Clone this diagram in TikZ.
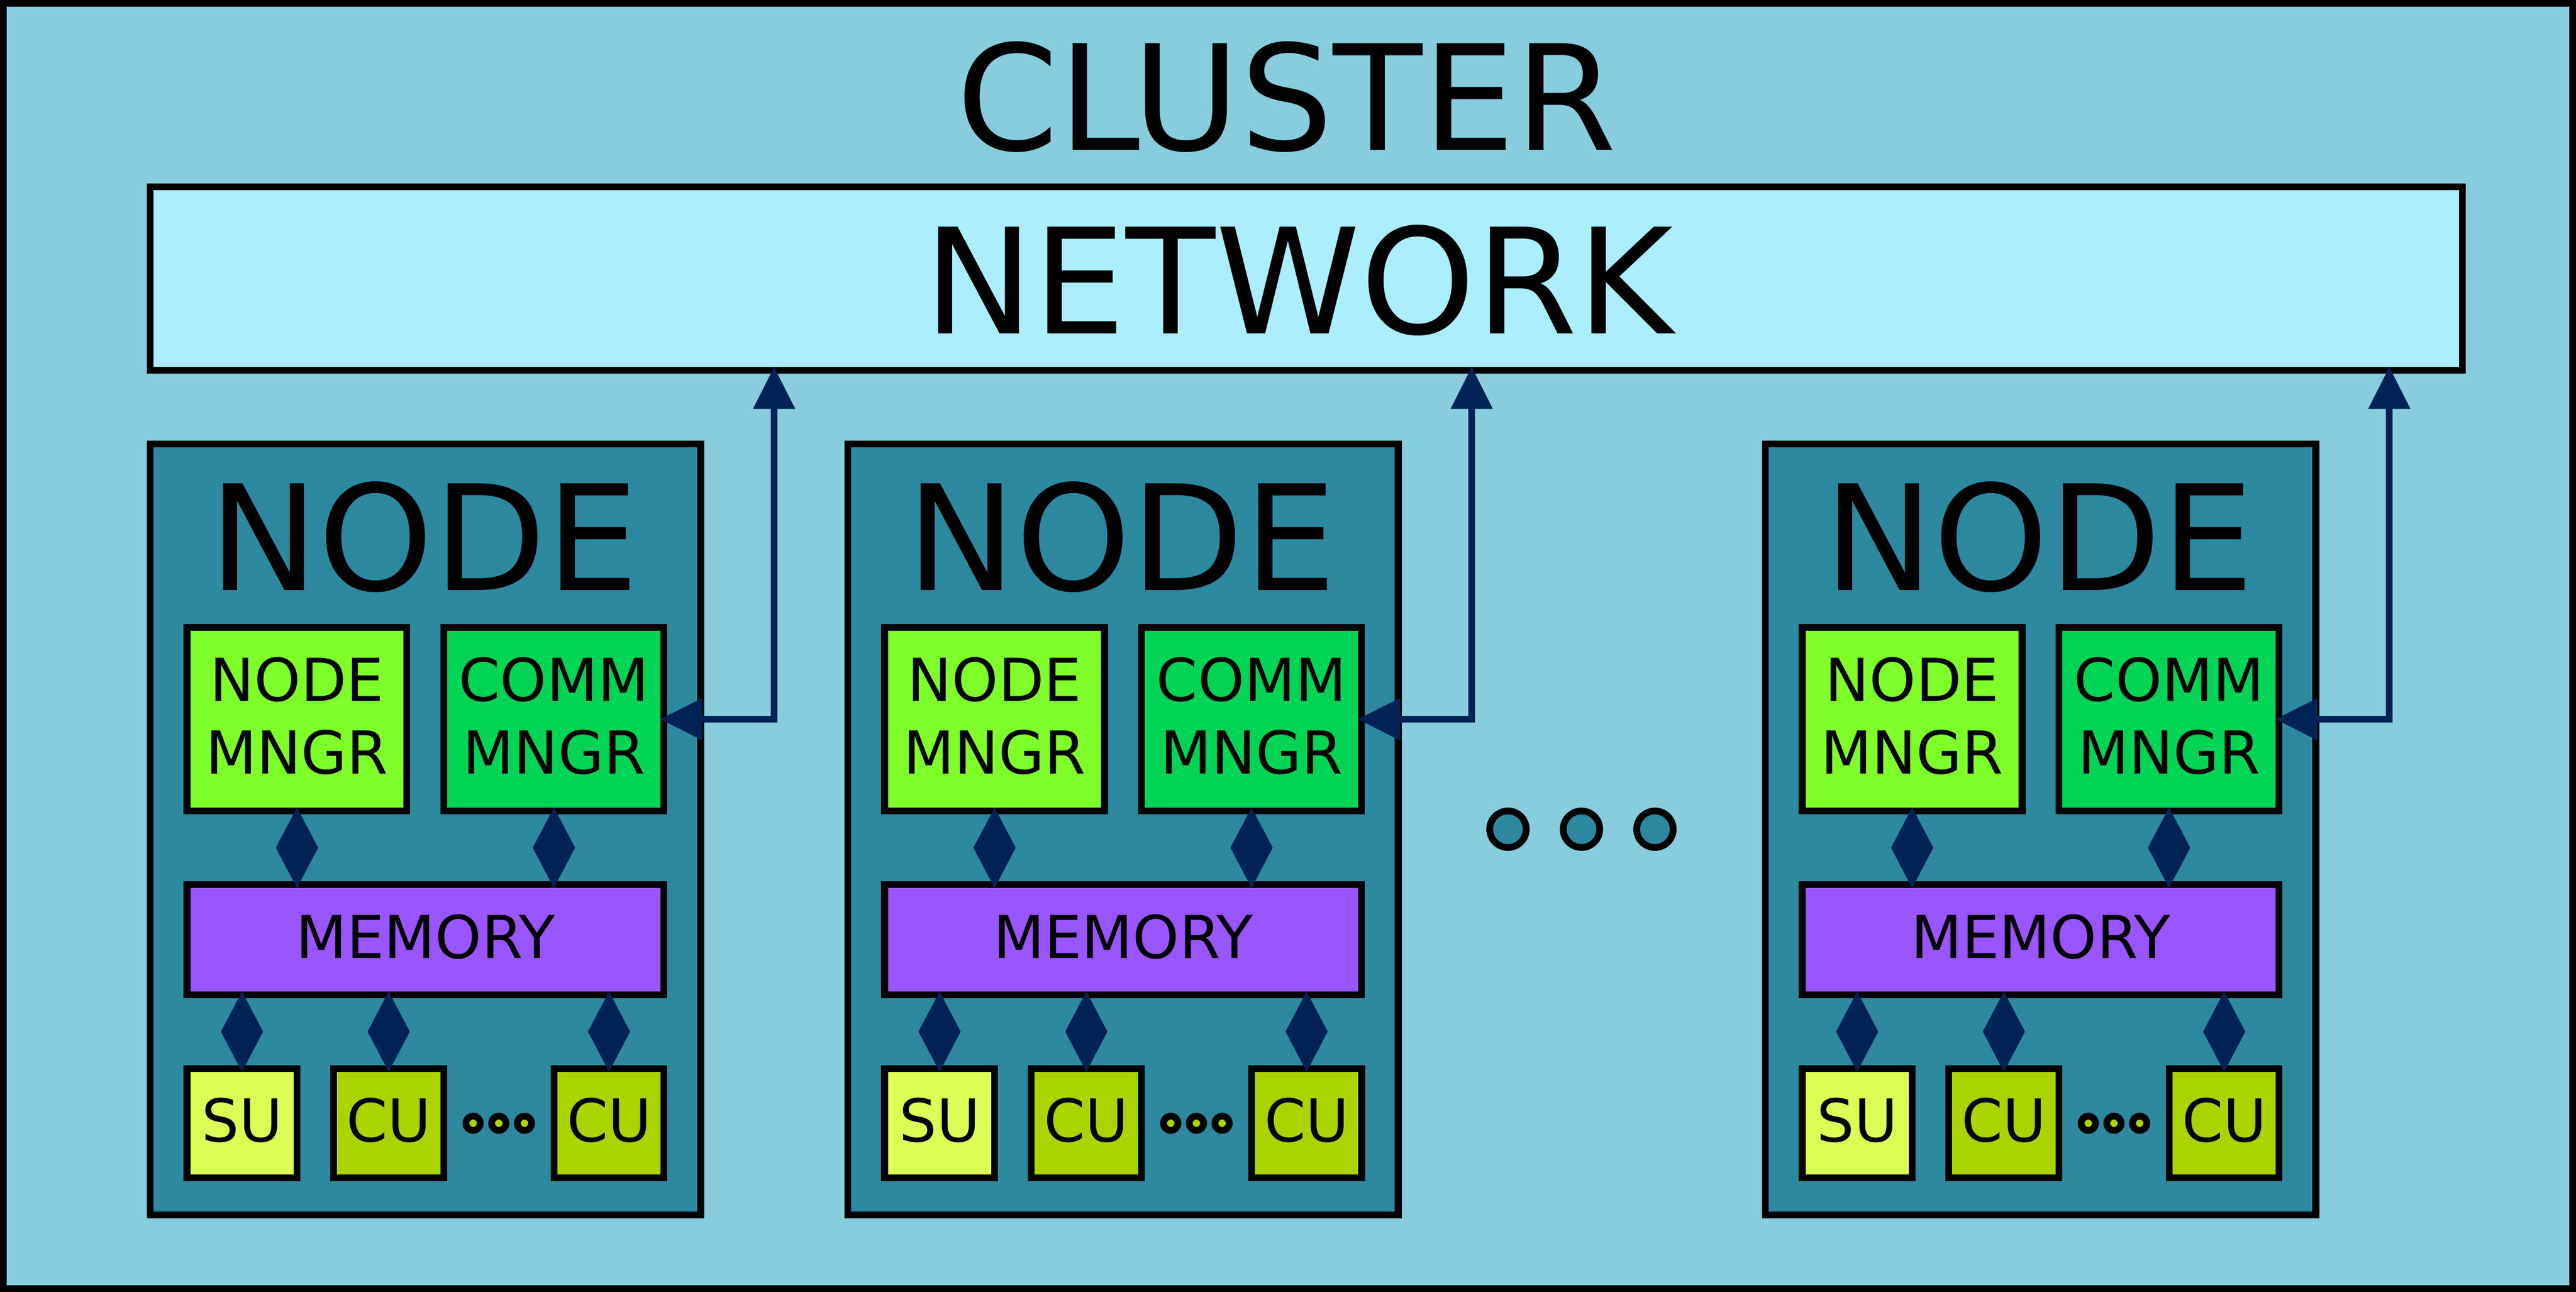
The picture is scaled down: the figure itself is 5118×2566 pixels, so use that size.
\documentclass[tikz,border=0pt]{standalone}
\usepackage{fontspec}
\setmainfont{DejaVu Sans}
\usetikzlibrary{arrows.meta}
\definecolor{clusterbg}{HTML}{87CDDE}
\definecolor{netbg}{HTML}{AAEEFF}
\definecolor{nodebg}{HTML}{2C89A0}
\definecolor{mngrbg}{HTML}{7FFF2A}
\definecolor{commbg}{HTML}{00D455}
\definecolor{membg}{HTML}{9955FF}
\definecolor{subg}{HTML}{DDFF55}
\definecolor{cubg}{HTML}{AAD400}
\definecolor{arrowc}{HTML}{002255}
\newcommand{\myDeepStrut}{\rule[-15pt]{0pt}{0pt}}
\newcommand{\myLowStrut}{\rule[-13pt]{0pt}{0pt}}
\begin{document}
\begin{tikzpicture}[x=1pt,y=-1pt,
  box/.style={draw=black,line width=13.5pt,inner sep=0pt,rectangle},
  bigtext/.style={font=\fontsize{291}{349}\selectfont},
  smalltext/.style={font=\fontsize{117.5}{145}\selectfont},
  nodebox/.style={box,fill=nodebg,minimum width=1094pt,minimum height=1531.5pt},
  mngrbox/.style={box,smalltext,align=center,minimum width=437pt,minimum height=364pt},
  membox/.style={box,smalltext,fill=membg,minimum width=947.5pt,minimum height=219pt},
  unitbox/.style={box,smalltext,minimum width=218.5pt,minimum height=217.5pt},
  link/.style={draw=arrowc,line width=13.5pt,
    >={Triangle[length=80pt,width=84pt,line width=0pt]},<->,
    shorten <=-13.5pt,shorten >=-13.5pt},
  netlink/.style={draw=arrowc,line width=13.5pt,
    >={Triangle[length=83pt,width=84pt,line width=0pt]},<->,
    shorten <=-13.5pt,shorten >=-13.5pt},
  smalldot/.style={draw=black,line width=13.5pt,fill=cubg},
  bigdot/.style={draw=black,line width=13.5pt,fill=nodebg}
]
\useasboundingbox (0,0) rectangle (5118,2566);
\node[box,line width=13.3pt,fill=clusterbg,minimum width=5104.7pt,minimum height=2552.7pt] (cluster) at (2559,1283) {};
\node[bigtext,anchor=base] (clustertitle) at (2556,298.5) {CLUSTER};
\node[box,bigtext,fill=netbg,minimum width=4594pt,minimum height=364.8pt] (net) at (2595,553.4) {\kern-15pt NETWORK\kern15pt\rule{0pt}{223pt}};

\foreach \i/\dx in {1/0,2/1386,3/3209}{
  \begin{scope}[shift={(\dx,0)}]
    \node[nodebox] (node\i) at (845,1647.25) {};
    \node[bigtext,anchor=base] (nodetitle\i) at (842,1173) {NODE};
    \node[mngrbox,fill=mngrbg] (mngr\i) at (590,1428.5) {NODE\\MNGR\myDeepStrut};
    \node[mngrbox,fill=commbg] (comm\i) at (1100.5,1428.5) {COMM\\MNGR\myDeepStrut};
    \node[membox] (mem\i) at (845.25,1866.5) {MEMORY\myLowStrut};
    \node[unitbox,fill=subg] (su\i) at (480.75,2230.75) {SU\myLowStrut};
    \node[unitbox,fill=cubg] (cua\i) at (772.25,2230.75) {CU\myLowStrut};
    \node[unitbox,fill=cubg] (cub\i) at (1210,2230.75) {CU\myLowStrut};
    \coordinate (k\i) at (1538,1428.5);
    \foreach \cx in {940,991,1042}{
      \draw[smalldot] (\cx,2231) circle[radius=14.25pt];
    }
    \draw[link] (mngr\i.south) -- (mngr\i.south |- mem\i.north);
    \draw[link] (comm\i.south) -- (comm\i.south |- mem\i.north);
    \draw[link] (mem\i.south -| su\i.north) -- (su\i.north);
    \draw[link] (mem\i.south -| cua\i.north) -- (cua\i.north);
    \draw[link] (mem\i.south -| cub\i.north) -- (cub\i.north);
    \draw[netlink] (comm\i.east) -- (k\i) -- (k\i |- net.south);
  \end{scope}
}
\foreach \cx in {2996,3142,3288}{
  \draw[bigdot] (\cx,1647) circle[radius=36.25pt];
}
\end{tikzpicture}
\end{document}
